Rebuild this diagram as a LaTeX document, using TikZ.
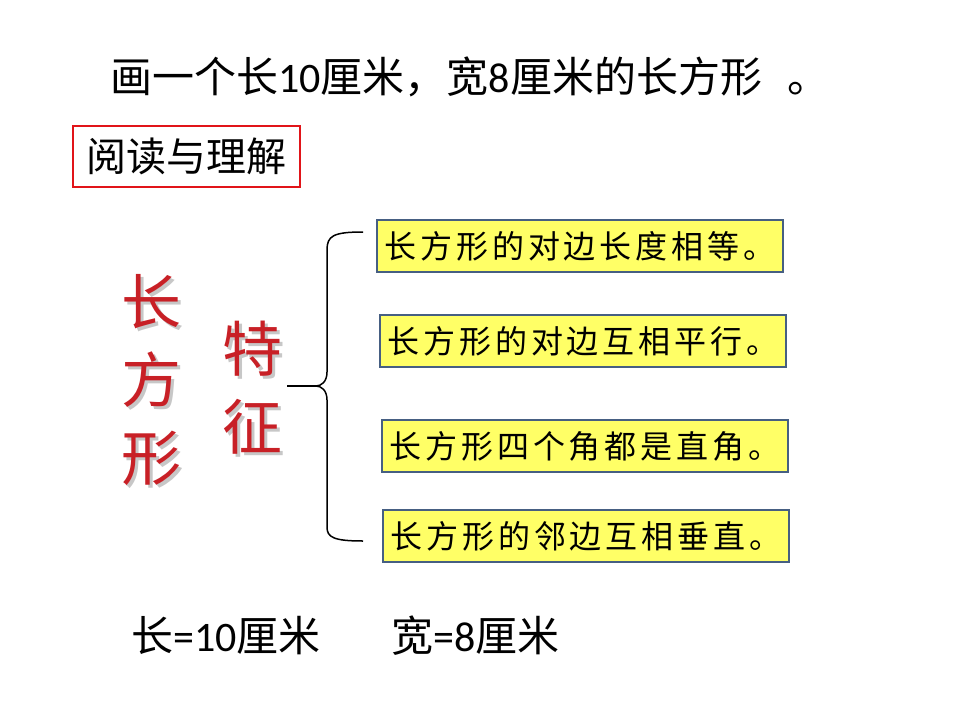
\documentclass[tikz,border=0pt]{standalone}
\usepackage{fontspec}
\setmainfont{Noto Sans CJK SC}
\newfontfamily\lat{Carlito}
\newfontfamily\boxf[LetterSpace=12]{Noto Sans CJK SC}
\usetikzlibrary{positioning}
\definecolor{boxc}{RGB}{255,255,102}
\definecolor{boxl}{RGB}{70,95,130}
\definecolor{redt}{RGB}{200,32,38}
\definecolor{redl}{RGB}{225,20,25}

\begin{document}
\begin{tikzpicture}[x=1pt,y=-1pt,
  big/.style={font=\fontsize{42}{50}\selectfont,inner sep=0pt},
  prop/.style={draw=boxl,line width=2.5pt,fill=boxc,minimum width=406pt,minimum height=52pt,
               inner sep=0pt,font=\fontsize{32}{38}\selectfont\boxf},
  redc/.style={text=redt,align=center,font=\fontsize{60}{78}\selectfont,inner sep=0pt},
  shd/.style={text=black!22,align=center,font=\fontsize{60}{78}\selectfont,inner sep=0pt}]
\useasboundingbox (0,0) rectangle (960,720);

%============================== the task ==============================
\node[big,anchor=base west] (task) at (110,92)
  {画一个长{\lat 10}厘米，宽{\lat 8}厘米的长方形 \ \,。};
\node[big,font=\fontsize{40}{48}\selectfont,draw=redl,line width=2.5pt,
      minimum width=227pt,minimum height=61pt] (read) at (186.5,156.5) {阅读与理解};

%============================== the red words ==============================
\node[shd] (rect-sh) at (154,383) {长\\方\\形};
\node[redc] (rect) at (151,380) {长\\方\\形};
\node[shd] (feat-sh) at (255,391) {特\\征};
\node[redc] (feat) at (252,388) {特\\征};

%============================== the brace ==============================
\coordinate (btop) at (363,232);
\coordinate (bbot) at (363,541);
\coordinate (btip) at (316,386);
\coordinate (btail) at (287,386);
\draw[line width=1.5pt] (btop) .. controls (333,232) and (327,236) .. (327,250) -- (327,372)
  .. controls (327,382) and (321,386) .. (btip)
  .. controls (321,386) and (327,390) .. (327,400) -- (327,527)
  .. controls (327,537) and (333,541) .. (bbot);
\draw[line width=1.5pt] (btail) -- (btip);

%============================== the four properties ==============================
\node[prop] (p1) at (580,246) {长方形的对边长度相等。};
\node[prop] (p2) at (583,341) {长方形的对边互相平行。};
\node[prop] (p3) at (585,446) {长方形四个角都是直角。};
\node[prop] (p4) at (586,536) {长方形的邻边互相垂直。};

%============================== the data ==============================
\node[big,anchor=base west] (len) at (131,651) {长{\lat =10}厘米};
\node[big,anchor=base west] (wid) at (391,651) {宽{\lat =8}厘米};
\end{tikzpicture}
\end{document}
